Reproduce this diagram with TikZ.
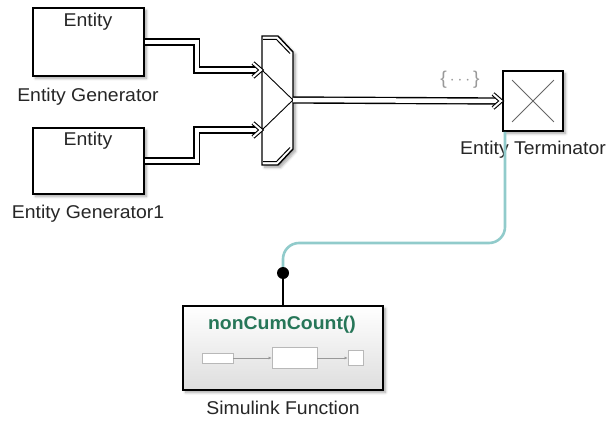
\documentclass[tikz,border=0pt]{standalone}
\usepackage{fontspec}
\setmainfont{Liberation Sans}[FakeStretch=1.05]
\usetikzlibrary{shadows,shadows.blur,calc,arrows.meta}
\definecolor{tealc}{RGB}{145,203,203}
\definecolor{fgreen}{RGB}{38,118,88}
\begin{document}
\begin{tikzpicture}[x=1pt,y=-1pt,
  font=\fontsize{18.5}{20}\selectfont,
  shad/.style={blur shadow={shadow xshift=2.5pt,shadow yshift=-2.5pt,shadow blur radius=2.5pt,shadow blur steps=6,shadow opacity=35}},
  blk/.style={draw,line width=1.8pt,fill=white,inner sep=0pt,shad},
  dbl/.style={double,double distance=4.5pt,line width=1.4pt},
  lbl/.style={text=black!85,inner sep=0pt},
  mini/.style={draw=black!28,fill=white,line width=0.8pt,inner sep=0pt},
  entarr/.pic={\draw[line width=1.1pt,double,double distance=2pt]
      (-9,-7) .. controls (-6,-5) and (-4,-2) .. (-1,0)
      .. controls (-4,2) and (-6,5) .. (-9,7);}]
\useasboundingbox (0,0) rectangle (609,422);

% generators
\node[blk,minimum width=111pt,minimum height=68pt,anchor=north west] (gen1) at (32,7) {};
\node[lbl] (gen1t) at (88,22) {Entity};
\node[lbl] (gen1l) at (88,97) {Entity Generator};
\node[blk,minimum width=111pt,minimum height=66pt,anchor=north west] (gen2) at (32,127) {};
\node[lbl] (gen2t) at (88,141) {Entity};
\node[lbl] (gen2l) at (88,214) {Entity Generator1};

% merge block
\draw[line width=1.4pt,fill=white,shad] (262,36) -- (278,36) -- (293,52) -- (293,149) -- (278,165) -- (262,165) -- cycle;
\draw[line width=1pt] (263,39.5) -- (276.5,39.5) -- (290,53.5);
\draw[line width=1pt] (263,161.5) -- (276.5,161.5) -- (290,147.5);
\coordinate (in1) at (262,70);
\coordinate (in2) at (262,130);
\coordinate (out) at (293,100);
\draw[line width=0.9pt] (in1) -- (out) -- (in2);

% terminator
\node[blk,minimum size=60pt] (term) at (533,101) {};
\draw[black!60,line width=0.8pt] ([shift={(10,10)}]term.north west) -- ([shift={(-10,-10)}]term.south east);
\draw[black!60,line width=0.8pt] ([shift={(-10,10)}]term.north east) -- ([shift={(10,-10)}]term.south west);
\node[lbl] (terml) at (533,150) {Entity Terminator};
\node[text=black!40,inner sep=0pt] (bus) at (460,80) {\{\,$\cdots$\,\}};
\coordinate (tin) at (term.west);

% entity connections
\draw[dbl] (gen1.east) -- ++(52,0) |- ([xshift=-4pt]in1);
\draw[dbl] (gen2.east) -- ++(52,0) |- ([xshift=-4pt]in2);
\draw[dbl] (out) -- ([xshift=-4pt]tin);
\pic at (in1) {entarr};
\pic at (in2) {entarr};
\pic at (tin) {entarr};

% simulink function
\node[draw,line width=1.9pt,minimum width=200pt,minimum height=84pt,top color=white,bottom color=black!13,shad,anchor=north] (func) at (283,305) {};
\node[text=fgreen,font=\bfseries\fontsize{18.5}{20}\selectfont,inner sep=0pt] (fname) at (282,325) {nonCumCount()};
\node[lbl] (funcl) at (283,408) {Simulink Function};
\node[mini,minimum width=31pt,minimum height=10pt] (m1) at (217.5,358) {};
\node[mini,minimum width=45pt,minimum height=21pt] (m2) at (294.5,358) {};
\node[mini,minimum width=15pt,minimum height=15pt] (m3) at (355.5,358) {};
\draw[black!40,line width=0.6pt,-{Latex[length=3pt,width=3pt]}] (m1) -- (m2);
\draw[black!40,line width=0.6pt,-{Latex[length=3pt,width=3pt]}] (m2) -- (m3);

% message line
\coordinate (dot) at (283,273);
\draw[tealc,line width=2.6pt,rounded corners=16pt] ([xshift=-28pt]term.south) -- ([xshift=-28pt]term.south |- 0,243) -- (dot |- 0,243) -- (dot);
\draw[line width=1.6pt] (dot) -- (func.north);
\fill (dot) circle[radius=6pt];
\end{tikzpicture}
\end{document}
